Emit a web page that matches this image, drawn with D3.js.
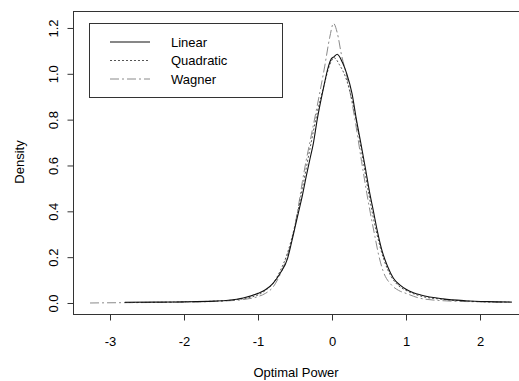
<!DOCTYPE html>
<html>
<head>
<meta charset="utf-8">
<script src="https://cdn.jsdelivr.net/npm/d3@7"></script>
<style>
  body { margin: 0; background: #fff; }
  svg { display: block; font-family: "Liberation Sans", Arial, sans-serif; }
</style>
</head>
<body>
<div class="chart"></div>
<script>
// density curves: [x, density]
const linear = [
  [-2.8,0.003],[-2.4,0.004],[-2.0,0.005],[-1.6,0.008],[-1.4,0.012],[-1.2,0.022],
  [-1.0,0.042],[-0.9,0.058],[-0.8,0.085],[-0.7,0.13],[-0.6,0.195],[-0.55,0.26],
  [-0.5,0.33],[-0.45,0.40],[-0.4,0.47],[-0.35,0.55],[-0.3,0.625],[-0.25,0.70],
  [-0.2,0.80],[-0.12,0.93],[-0.05,1.03],[-0.01,1.065],[0.03,1.075],[0.07,1.085],
  [0.14,1.05],[0.2,1.0],[0.27,0.915],[0.33,0.80],[0.39,0.697],[0.45,0.59],
  [0.51,0.479],[0.56,0.40],[0.61,0.318],[0.67,0.235],[0.75,0.16],[0.83,0.108],
  [0.92,0.078],[1.0,0.060],[1.1,0.045],[1.2,0.035],[1.5,0.018],[1.8,0.010],
  [2.1,0.006],[2.43,0.004]
];
const quadratic = [
  [-2.8,0.002],[-2.4,0.003],[-2.0,0.005],[-1.6,0.008],[-1.3,0.014],[-1.1,0.025],
  [-1.0,0.035],[-0.9,0.055],[-0.8,0.085],[-0.7,0.14],[-0.6,0.22],[-0.5,0.34],
  [-0.4,0.50],[-0.3,0.67],[-0.2,0.83],[-0.1,0.96],[-0.03,1.04],[0.03,1.07],
  [0.1,1.04],[0.2,0.97],[0.3,0.84],[0.4,0.66],[0.5,0.47],[0.6,0.31],[0.7,0.19],
  [0.8,0.115],[0.9,0.075],[1.0,0.055],[1.2,0.03],[1.5,0.016],[2.0,0.006],[2.4,0.004]
];
const wagner = [
  [-3.27,0.0],[-3.0,0.001],[-2.5,0.002],[-2.0,0.004],[-1.5,0.008],[-1.2,0.015],
  [-1.0,0.028],[-0.9,0.042],[-0.8,0.068],[-0.7,0.125],[-0.6,0.21],[-0.5,0.34],
  [-0.45,0.43],[-0.4,0.53],[-0.35,0.62],[-0.3,0.70],[-0.2,0.86],[-0.1,1.03],
  [-0.03,1.16],[0.02,1.22],[0.07,1.18],[0.13,1.08],[0.2,0.99],[0.3,0.82],
  [0.4,0.617],[0.47,0.479],[0.52,0.39],[0.58,0.29],[0.63,0.21],[0.69,0.14],
  [0.8,0.08],[0.9,0.055],[1.0,0.042],[1.2,0.02],[1.5,0.01],[2.0,0.005],[2.4,0.003]
];
const seriesNames = ["Linear", "Quadratic", "Wagner"];
const xTicks = [-3, -2, -1, 0, 1, 2];
const yTicks = [0, 0.2, 0.4, 0.6, 0.8, 1.0, 1.2];

const width = 519, height = 381;
const plot = { left: 73, top: 11, right: 519, bottom: 314 };

const svg = d3.select('.chart').append('svg')
  .attr('width', width)
  .attr('height', height);

const x = d3.scaleLinear().domain([-3.5, 2.527]).range([plot.left, plot.right]);
const y = d3.scaleLinear().domain([-0.048, 1.274]).range([plot.bottom, plot.top]);

const styles = {
  Linear:    { stroke: "#111", dash: null, width: 1.1 },
  Quadratic: { stroke: "#555", dash: "2,2", width: 1 },
  Wagner:    { stroke: "#8a8a8a", dash: "9,3,2,3", width: 1 }
};

// box
svg.append('rect')
  .attr('x', plot.left + 0.5).attr('y', plot.top + 0.5)
  .attr('width', plot.right - plot.left).attr('height', plot.bottom - plot.top)
  .attr('fill', 'none').attr('stroke', '#333');

// axes
const xAxis = svg.append('g')
  .attr('transform', `translate(0,${plot.bottom + 0.5})`)
  .call(d3.axisBottom(x).tickValues(xTicks).tickSize(6).tickPadding(16).tickFormat(d3.format('d')));
xAxis.select('.domain').remove();
xAxis.selectAll('text').attr('font-size', 13).attr('fill', '#000')
  .text(d => d < 0 ? '-' + Math.abs(d) : d);
xAxis.selectAll('line').attr('stroke', '#333');

const yAxis = svg.append('g')
  .attr('transform', `translate(${plot.left + 0.5},0)`)
  .call(d3.axisLeft(y).tickValues(yTicks).tickSize(6).tickFormat(d3.format('.1f')));
yAxis.select('.domain').remove();
yAxis.selectAll('line').attr('stroke', '#333');
yAxis.selectAll('text')
  .attr('font-size', 13).attr('fill', '#000')
  .attr('x', null).attr('dy', null)
  .attr('text-anchor', 'middle')
  .attr('transform', 'translate(-16,0) rotate(-90)')
  .attr('y', 0);

// axis titles
svg.append('text')
  .attr('x', (plot.left + plot.right) / 2).attr('y', 377)
  .attr('text-anchor', 'middle').attr('font-size', 13)
  .text('Optimal Power');
svg.append('text')
  .attr('transform', `translate(24,${162}) rotate(-90)`)
  .attr('text-anchor', 'middle').attr('font-size', 13)
  .text('Density');

// curves
const line = d3.line().x(d => x(d[0])).y(d => y(d[1])).curve(d3.curveMonotoneX);
const allData = { Linear: linear, Quadratic: quadratic, Wagner: wagner };

svg.selectAll('.curve')
  .data(seriesNames.slice().reverse())
  .join('path')
  .attr('class', 'curve')
  .attr('d', d => line(allData[d]))
  .attr('fill', 'none')
  .attr('stroke', d => styles[d].stroke)
  .attr('stroke-width', d => styles[d].width)
  .attr('stroke-dasharray', d => styles[d].dash);

// legend
const legend = svg.append('g');
legend.append('rect')
  .attr('x', 89.5).attr('y', 23.5).attr('width', 193).attr('height', 74)
  .attr('fill', '#fff').attr('stroke', '#333');
const rows = legend.selectAll('.row')
  .data(seriesNames)
  .join('g')
  .attr('class', 'row')
  .attr('transform', (d, i) => `translate(0,${42 + i * 18.5})`);
rows.append('line')
  .attr('x1', 110).attr('x2', 150)
  .attr('stroke', d => styles[d].stroke)
  .attr('stroke-width', d => styles[d].width)
  .attr('stroke-dasharray', d => styles[d].dash);
rows.append('text')
  .attr('x', 171).attr('y', 4.5)
  .attr('font-size', 13)
  .text(d => d);
</script>
</body>
</html>
